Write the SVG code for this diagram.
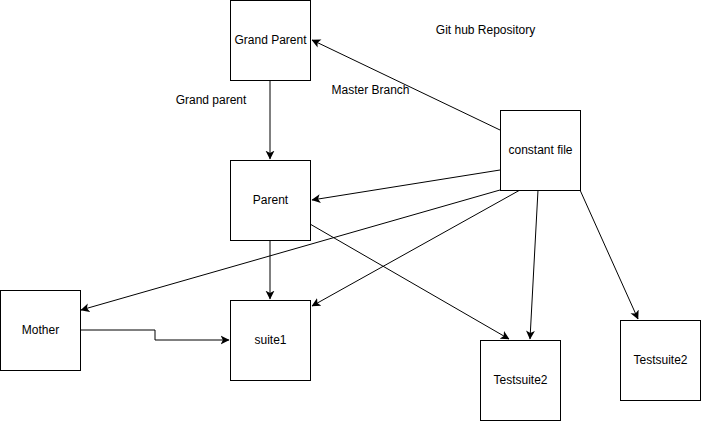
<svg xmlns="http://www.w3.org/2000/svg" width="701" height="421" viewBox="0 0 701 421">
<style>
.box{fill:#fff;stroke:#000;stroke-width:1}
.lbl{font-family:"Liberation Sans",Arial,Helvetica,sans-serif;font-size:12px;fill:#000;text-anchor:middle}
.edge{fill:none;stroke:#000;stroke-width:1;marker-end:url(#arr)}
</style>
<defs>
<marker id="arr" viewBox="0 0 8 9" refX="7.5" refY="4.5" markerWidth="9" markerHeight="10" markerUnits="userSpaceOnUse" orient="auto">
<path d="M0,0.5 L8,4.5 L0,8.5 L2,4.5 z" fill="#000"/>
</marker>
</defs>
<rect width="701" height="421" fill="#fff"/>
<g id="connectors">
<path class="edge" d="M500,130 L312,40"/>
<path class="edge" d="M270,80 L270,159"/>
<path class="edge" d="M500,170 L312,200"/>
<path class="edge" d="M500,190 L81,310"/>
<path class="edge" d="M520,190 L312,306"/>
<path class="edge" d="M310,224 L509,339"/>
<path class="edge" d="M538,190 L530,339"/>
<path class="edge" d="M580,190 L638,319"/>
<path class="edge" d="M80,330 L155,330 L155,340 L229,340"/>
<path class="edge" d="M270,240 L270,299"/>
</g>
<g id="grandparent"><rect class="box" x="230.5" y="0.5" width="80" height="80"/><text class="lbl" x="270.5" y="43.5">Grand Parent</text></g>
<g id="parent"><rect class="box" x="230.5" y="160.5" width="80" height="80"/><text class="lbl" x="270.5" y="203.5">Parent</text></g>
<g id="constantfile"><rect class="box" x="500.5" y="110.5" width="80" height="80"/><text class="lbl" x="540.5" y="153.5">constant file</text></g>
<g id="mother"><rect class="box" x="0.5" y="290.5" width="80" height="80"/><text class="lbl" x="40.5" y="333.5">Mother</text></g>
<g id="suite1"><rect class="box" x="230.5" y="300.5" width="80" height="80"/><text class="lbl" x="270.5" y="343.5">suite1</text></g>
<g id="testsuite2a"><rect class="box" x="480.5" y="340.5" width="80" height="80"/><text class="lbl" x="520.5" y="383.5">Testsuite2</text></g>
<g id="testsuite2b"><rect class="box" x="620.5" y="320.5" width="80" height="80"/><text class="lbl" x="660.5" y="363.5">Testsuite2</text></g>
<g id="labels">
<text class="lbl" x="211" y="103.5">Grand parent</text>
<text class="lbl" x="370.5" y="93.5">Master Branch</text>
<text class="lbl" x="485.5" y="33.5">Git hub Repository</text>
</g>
</svg>
